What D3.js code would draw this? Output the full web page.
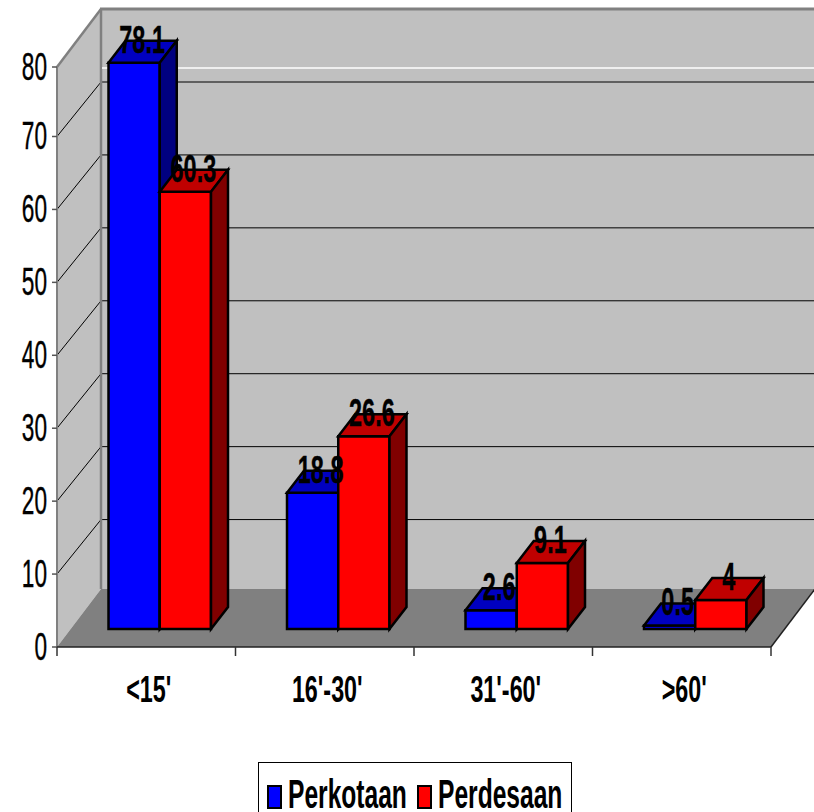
<!DOCTYPE html>
<html><head><meta charset="utf-8">
<script src="https://cdn.jsdelivr.net/npm/d3@7"></script>
<style>html,body{margin:0;padding:0;background:#fff;overflow:hidden}svg{display:block}text{font-family:"Liberation Sans",Arial,sans-serif;fill:#000}</style>
</head><body><svg id="c" width="814" height="812"></svg>
<script>
const categories=["<15'","16'-30'","31'-60'",">60'"];
const seriesNames=["Perkotaan","Perdesaan"];
const perkotaan=[78.1,18.8,2.6,0.5];
const perdesaan=[60.3,26.6,9.1,4];
const seriesValues=[perkotaan,perdesaan];
const faceColors=["#0000ff","#ff0000"];
const topColors=["#0000c0","#c00000"];
const sideColors=["#000080","#800000"];
const yTicks=[0,10,20,30,40,50,60,70,80];

const svg=d3.select("#c");
const y=d3.scaleLinear().domain([0,80]).range([647,67]);
const gridY=d3.scaleLinear().domain([0,70]).range([647,136.5]);
const x=d3.scaleBand().domain(categories).range([57,771]);
const x1=d3.scaleBand().domain(seriesNames).range([51.5,154]);
const wall={dx:44,dy:-58,gridDy:-54.5}, bar={dx:17,dy:-22}, base=-18;
const poly=(pts,fill,stroke,sw)=>svg.append("polygon").attr("points",pts.map(p=>p.join(",")).join(" ")).attr("fill",fill).attr("stroke",stroke||"none").attr("stroke-width",sw||0).attr("stroke-linejoin","miter");
const line=(a,b,c,w)=>svg.append("line").attr("x1",a[0]).attr("y1",a[1]).attr("x2",b[0]).attr("y2",b[1]).attr("stroke",c).attr("stroke-width",w);
const label=(s,px,py,size,weight,sx,anchor,sw)=>svg.append("text").text(s).attr("transform",`translate(${px},${py}) scale(${sx},1)`).attr("font-size",size).attr("font-weight",weight).attr("text-anchor",anchor||"middle").attr("stroke","#000").attr("stroke-width",sw||0);

const x0=x.range()[0],x9=x.range()[1],y0=y(0),yT=y(80);
const tickPos=t=>t===80?y(t):gridY(t);
// walls and floor
poly([[x0+wall.dx,yT+wall.dy],[860,yT+wall.dy],[860,y0+wall.dy],[x0+wall.dx,y0+wall.dy]],"#c0c0c0");
poly([[x0,yT],[x0+wall.dx,yT+wall.dy],[x0+wall.dx,y0+wall.dy],[x0,y0]],"#c0c0c0");
poly([[x0,y0],[x0+wall.dx,y0+wall.dy],[x9+wall.dx,y0+wall.dy],[x9,y0]],"#808080");
// gridlines
yTicks.filter(t=>t>0&&t<80).forEach(t=>{
  line([x0,gridY(t)],[x0+wall.dx,gridY(t)+wall.gridDy],"#000",1);
  line([x0+wall.dx,gridY(t)+wall.gridDy],[814,gridY(t)+wall.gridDy],"#000",1);
});
// wall borders
line([x0,yT],[x0+wall.dx,yT+wall.dy],"#808080",2.5);
line([x0+wall.dx-1,yT+wall.dy],[814,yT+wall.dy],"#808080",3);
line([x0+wall.dx,yT+wall.dy],[x0+wall.dx,y0+wall.dy],"#808080",2.5);
line([x0,yT],[x0,y0],"#808080",2);
line([x0+wall.dx+1,yT+1],[814,yT+1],"#fff",1.5);
line([x0,y0],[x9,y0],"#222",1.5);
line([x9,y0],[x9+wall.dx,y0+wall.dy],"#222",1.5);
// ticks
yTicks.forEach(t=>{line([52,tickPos(t)],[x0,tickPos(t)],"#555",1.5);label(t,47,tickPos(t)+12.5,39,"normal",.58,"end",.4);});
d3.range(categories.length+1).forEach(i=>{const px=x0+i*x.step();line([px,y0],[px,y0+9],"#333",1.5);});
categories.forEach(c=>label(c,x(c)+x.bandwidth()/2+2.5,702,37,"bold",.63));
// bars
categories.forEach((c,i)=>seriesNames.forEach((s,k)=>{
  const v=seriesValues[k][i],l=x(c)+x1(s),r=l+x1.bandwidth(),b=y0+base,t=b-(y0-y(v));
  poly([[l,b],[r,b],[r,t],[l,t]],faceColors[k],"#000",2.5);
  poly([[l,t],[r,t],[r+bar.dx,t+bar.dy],[l+bar.dx,t+bar.dy]],topColors[k],"#000",2.5);
  poly([[r,b],[r+bar.dx,b+bar.dy],[r+bar.dx,t+bar.dy],[r,t]],sideColors[k],"#000",2.5);
}));
// data labels
categories.forEach((c,i)=>seriesNames.forEach((s,k)=>{
  const v=seriesValues[k][i],l=x(c)+x1(s),t=y0+base-(y0-y(v));
  label(v,l+x1.bandwidth()/2+8,t-10,39,"bold",.6,"middle",.4);
}));
// legend
svg.append("rect").attr("x",258.5).attr("y",762.5).attr("width",313).attr("height",60).attr("fill","#fff").attr("stroke","#000").attr("stroke-width",1);
const legendX=[268,418];
seriesNames.forEach((s,k)=>{
  svg.append("rect").attr("x",legendX[k]).attr("y",786).attr("width",13).attr("height",22).attr("fill",faceColors[k]).attr("stroke","#000").attr("stroke-width",2);
  label(s,legendX[k]+20,808,40,"bold",.615,"start");
});
</script></body></html>
